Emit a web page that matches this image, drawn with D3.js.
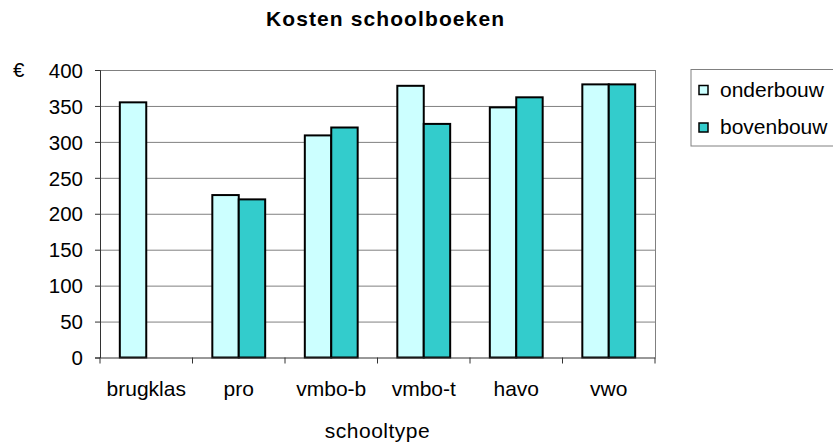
<!DOCTYPE html>
<html>
<head>
    <meta charset="utf-8">
    <title>Kosten schoolboeken</title>
    <script src="https://cdn.jsdelivr.net/npm/d3@7"></script>
    <style>
        body {
            margin: 0;
            background: #fff;
        }

        text {
            font-family: "Liberation Sans", Arial, sans-serif;
            fill: #000;
        }

        .grid line {
            stroke: #808080;
            stroke-width: 1px;
        }

        .bar {
            stroke: #000;
            stroke-width: 2px;
        }
    </style>
</head>

<body>

<script type="text/javascript">
    var width = 833,
        height = 443;

    var categories = ['brugklas', 'pro', 'vmbo-b', 'vmbo-t', 'havo', 'vwo'];
    var series = ['onderbouw', 'bovenbouw'];
    var onderbouw = [355, 226, 309, 378, 348, 380];
    var bovenbouw = [null, 220, 320, 325, 362, 380];
    var yTicks = [0, 50, 100, 150, 200, 250, 300, 350, 400];
    var colors = ['#ccffff', '#33cccc'];

    var margin = {top: 70, right: 178, bottom: 85.5, left: 100};
    var plotW = width - margin.left - margin.right,
        plotH = height - margin.top - margin.bottom;

    var svg = d3.select('body').append('svg')
            .attr('width', width)
            .attr('height', height);

    var x0 = d3.scaleBand().domain(categories).range([0, plotW]).padding(0);
    var x1 = d3.scaleBand().domain(series).range([0, x0.bandwidth()])
            .paddingInner(0).paddingOuter(0.75);
    var y = d3.scaleLinear().domain([0, 400]).range([plotH, 0]);
    var color = d3.scaleOrdinal().domain(series).range(colors);

    var g = svg.append('g')
            .attr('transform', 'translate(' + margin.left + ',' + margin.top + ')');

    // gridlines
    g.append('g').attr('class', 'grid')
            .selectAll('line')
            .data(yTicks.slice(1))
            .enter().append('line')
            .attr('x1', 0).attr('x2', plotW)
            .attr('y1', function (d) { return y(d) + 0.5; })
            .attr('y2', function (d) { return y(d) + 0.5; });

    // right border
    g.append('line')
            .attr('x1', plotW + 0.5).attr('x2', plotW + 0.5)
            .attr('y1', 0).attr('y2', plotH)
            .attr('stroke', '#808080');

    // bars
    var rows = categories.map(function (c, i) {
        return {cat: c, values: [onderbouw[i], bovenbouw[i]]};
    });

    g.selectAll('.group')
            .data(rows)
            .enter().append('g')
            .attr('class', 'group')
            .attr('transform', function (d) { return 'translate(' + x0(d.cat) + ',0)'; })
            .selectAll('rect')
            .data(function (d) {
                return series.map(function (s, j) { return {key: s, value: d.values[j]}; })
                        .filter(function (e) { return e.value != null; });
            })
            .enter().append('rect')
            .attr('class', 'bar')
            .attr('x', function (d) { return x1(d.key); })
            .attr('width', x1.bandwidth())
            .attr('y', function (d) { return y(d.value); })
            .attr('height', function (d) { return plotH - y(d.value); })
            .attr('fill', function (d) { return color(d.key); });

    // y axis
    var yAxis = g.append('g')
            .call(d3.axisLeft(y).tickValues(yTicks).tickSize(5).tickPadding(12));
    yAxis.select('.domain').attr('stroke', '#333');
    yAxis.selectAll('.tick line').attr('stroke', '#333');
    yAxis.selectAll('text')
            .style('font-size', '20.5px')
            .attr('dy', '0.35em');

    // x axis
    var xAxis = g.append('g')
            .attr('transform', 'translate(0,' + plotH + ')')
            .call(d3.axisBottom(x0).tickSize(0).tickPadding(24));
    xAxis.select('.domain').attr('stroke', '#333');
    xAxis.selectAll('.tick text')
            .style('font-size', '21px')
            .attr('dy', 0)
            .attr('y', 38.5);
    xAxis.selectAll('.edge')
            .data(d3.range(categories.length + 1))
            .enter().append('line')
            .attr('x1', function (i) { return i * x0.step(); })
            .attr('x2', function (i) { return i * x0.step(); })
            .attr('y1', 0).attr('y2', 6)
            .attr('stroke', '#333');

    // titles
    svg.append('text')
            .attr('x', 266).attr('y', 26)
            .style('font-size', '21px')
            .style('font-weight', 'bold')
            .style('letter-spacing', '1.1px')
            .text('Kosten schoolboeken');

    svg.append('text')
            .attr('x', margin.left + plotW / 2).attr('y', 438)
            .attr('text-anchor', 'middle')
            .style('font-size', '21px')
            .style('letter-spacing', '0.5px')
            .text('schooltype');

    svg.append('text')
            .attr('x', 13).attr('y', margin.top)
            .attr('dy', '0.35em')
            .style('font-size', '20.5px')
            .text('€');

    // legend
    var legend = svg.append('g').attr('transform', 'translate(691,69.5)');
    legend.append('rect')
            .attr('width', 160).attr('height', 76.5)
            .attr('fill', '#fff')
            .attr('stroke', '#808080');

    var item = legend.selectAll('.item')
            .data(series)
            .enter().append('g')
            .attr('transform', function (d, i) { return 'translate(8,' + (16 + i * 37.5) + ')'; });
    item.append('rect')
            .attr('width', 9).attr('height', 9)
            .attr('fill', function (d) { return color(d); })
            .attr('stroke', '#000')
            .attr('stroke-width', 1.5);
    item.append('text')
            .attr('x', 21).attr('y', 11)
            .style('font-size', '21px')
            .text(function (d) { return d; });
</script>

</body>

</html>
